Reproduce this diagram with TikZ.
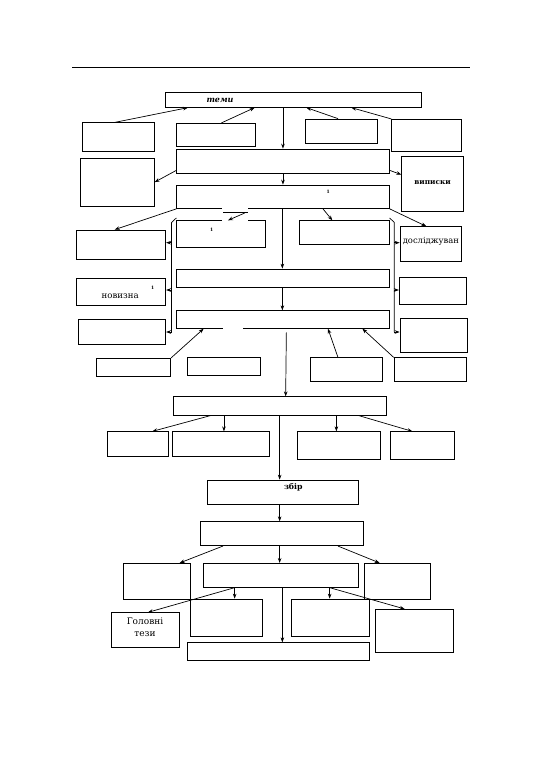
\documentclass[tikz,border=0pt]{standalone}
\usepackage{fontspec}
\setmainfont{DejaVu Serif}
\usetikzlibrary{fit,arrows.meta,calc}
\tikzset{
  bx/.style={draw, line width=0.7pt, inner sep=0pt, align=center},
  arr/.style={-{Stealth[length=5pt,width=3.6pt]}, line width=0.7pt},
  ln/.style={line width=0.7pt},
  lbl/.style={inner sep=0pt, font=\fontsize{8.6}{9}\selectfont},
  one/.style={inner sep=0pt, font=\fontsize{4.5}{5}\selectfont\bfseries}
}
\newcommand\mybox[6]{\node[bx, fit={(#2,#3) (#4,#5)}] (#1) {#6};}
\begin{document}
\begin{tikzpicture}[x=1pt,y=-1pt]
\useasboundingbox (0,0) rectangle (543,781);
% top rule
\draw[line width=1.3pt] (72,67.7) -- (470,67.7);
% boxes
\mybox{teme}{165}{92.3}{421.7}{107.3}{}
\mybox{A}{82.3}{122.7}{154.3}{151.7}{}
\mybox{B}{176.7}{123.3}{255.7}{146}{}
\mybox{C}{305}{119}{377.7}{143.3}{}
\mybox{D}{391.7}{119.3}{461.7}{151.7}{}
\mybox{E}{176.7}{149}{389.3}{173.3}{}
\mybox{F}{80.7}{158.3}{154.3}{206}{}
\mybox{Vyp}{401.7}{156.7}{463.3}{211.7}{\fontsize{7.3}{8}\selectfont\bfseries виписки}
\mybox{G}{176.7}{185}{389.3}{208.5}{}
\mybox{H}{76.7}{230}{165.7}{259.3}{}
\mybox{K}{176.7}{220.7}{265.7}{247.7}{}
\mybox{L}{299.3}{220.7}{389.3}{244.3}{}
\mybox{Dosl}{400}{226.7}{461.7}{261.7}{\fontsize{8.4}{9}\selectfont досліджуван}
\mybox{M}{176.7}{269}{389.3}{287.3}{}
\mybox{I}{76}{278.3}{165.7}{305.7}{}
\mybox{Rb}{399.3}{277.7}{466.7}{304.3}{}
\mybox{N}{176.7}{310.7}{389.3}{328.3}{}
\mybox{J}{78.3}{319.3}{165.7}{344}{}
\mybox{Rc}{400}{318.3}{467.3}{352.3}{}
\mybox{Pa}{96}{358.3}{170.7}{376}{}
\mybox{Pb}{187.3}{357.7}{260}{375.7}{}
\mybox{Pc}{310}{357.7}{382.7}{381.7}{}
\mybox{Pd}{394}{357.7}{466.7}{381.7}{}
\mybox{Q}{173.3}{396.7}{386}{415}{}
\mybox{Qa}{107.3}{431.7}{168.3}{456.7}{}
\mybox{Qb}{172.3}{431.7}{269.3}{456.7}{}
\mybox{Qc}{297.3}{431.7}{380}{459.3}{}
\mybox{Qd}{390}{431.7}{454.3}{459.3}{}
\mybox{Zb}{207.3}{480}{358.3}{504}{}
\mybox{S}{200.7}{521.7}{363.3}{545.7}{}
\mybox{Ta}{123.3}{563.3}{190.7}{599.3}{}
\mybox{Tb}{203.3}{563.3}{358.3}{587.3}{}
\mybox{Tc}{364}{563.3}{430.7}{599.3}{}
\mybox{Ua}{111}{612.7}{179}{647.7}{\fontsize{9}{12.8}\selectfont Головні\\тези}
\mybox{Ub}{190}{599}{262.7}{636}{}
\mybox{Uc}{291.7}{599}{369.3}{636.7}{}
\mybox{Ud}{375}{609.3}{453.3}{652.7}{}
\mybox{V}{187.7}{642.7}{369.3}{660}{}
% gaps in the scan
\fill[white] (221.7,206.5) rectangle (248.3,222);
\draw[ln] (223.3,212.7) -- (248.3,212.7);
\fill[white] (222.7,327) rectangle (243.3,329.6);
% texts
\node[inner sep=0pt, font=\fontsize{8}{8}\selectfont\bfseries\itshape] (tt) at (220,100.5) {теми};
\node[one] (oneG) at (328.3,191.7) {1};
\node[one] (oneK) at (211.7,230) {1};
\node[one] (oneI) at (152.7,288.3) {1};
\node[lbl] (nov) at (120.2,296.7) {новизна};
\node[inner sep=0pt, font=\fontsize{7.8}{8}\selectfont\bfseries] (zbt) at (293.3,487.3) {збір};
% connectors top
\draw[arr] ([xshift=-3.3pt]A.north) -- ([xshift=23.3pt]teme.south west);
\draw[arr] ([xshift=45pt]B.north west) -- ([xshift=90pt]teme.south west);
\draw[arr] ([xshift=-3.3pt]C.north) -- ([xshift=141.7pt]teme.south west);
\draw[arr] (D.north west) -- ([xshift=186.7pt]teme.south west);
\draw[arr] ([xshift=118.3pt]teme.south west) -- ([xshift=106.6pt]E.north west);
\draw[arr] ([yshift=3.3pt]E.south west) -- (F.east);
\draw[arr] ([yshift=3.3pt]E.south east) -- ([yshift=-18.3pt]Vyp.north west);
\draw[arr] ([xshift=106.6pt]E.south west) -- ([xshift=106.6pt]G.north west);
% from G
\draw[arr] (G.south west) -- ([xshift=38.3pt]H.north west);
\draw[arr] ([xshift=68.3pt,yshift=-4.2pt]G.south west) -- ([xshift=51.6pt]K.north west);
\draw[arr] ([xshift=146.6pt]G.south west) -- ([xshift=33.4pt]L.north west);
\draw[arr] (G.south east) -- ([xshift=26.7pt]Dosl.north west);
\draw[arr] ([xshift=106pt]G.south west) -- ([xshift=106pt]M.north west);
\draw[arr] ([xshift=106pt]M.south west) -- ([xshift=106pt]N.north west);
% side brackets
\coordinate (lt) at ([yshift=2.4pt]K.north west);
\coordinate (lb) at (171.5,332);
\draw[ln] (lt) -- (171.5,222.5) -- (lb);
\coordinate (rt) at ([yshift=2.4pt]L.north east);
\coordinate (rb) at (394.3,332);
\draw[ln] (rt) -- (394.3,222.5) -- (rb);
\coordinate (la) at (171.5,242.7);
\coordinate (lc) at (171.5,290);
\draw[arr] (la) -- (la -| H.east);
\draw[arr] (lc) -- (lc -| I.east);
\draw[arr] (lb) -- (lb -| J.east);
\coordinate (ra) at (394.3,242.7);
\coordinate (rc) at (394.3,290);
\draw[arr] (ra) -- (ra -| Dosl.west);
\draw[arr] (rc) -- (rc -| Rb.west);
\draw[arr] (rb) -- (rb -| Rc.west);
% into N
\draw[arr] (Pa.north east) -- ([xshift=27.3pt]N.south west);
\draw[arr] ([xshift=28.3pt]Pc.north west) -- ([xshift=151.6pt]N.south west);
\draw[arr] (Pd.north west) -- ([xshift=186pt]N.south west);
\draw[arr] ([xshift=110pt,yshift=-3.7pt]N.south west) -- ([xshift=112.7pt]Q.north west);
% from Q
\draw[arr] ([xshift=38.4pt]Q.south west) -- ([xshift=45.4pt]Qa.north west);
\draw[arr] ([xshift=51pt]Q.south west) -- ([xshift=52pt]Qb.north west);
\draw[arr] ([xshift=163.4pt]Q.south west) -- ([xshift=39.4pt]Qc.north west);
\draw[arr] ([xshift=185pt]Q.south west) -- ([xshift=22.7pt]Qd.north west);
\draw[arr] ([xshift=106.7pt]Q.south west) -- ([xshift=72.7pt]Zb.north west);
\draw[arr] ([xshift=72.7pt]Zb.south west) -- ([xshift=79.3pt]S.north west);
% from S
\draw[arr] ([xshift=22.6pt]S.south west) -- ([xshift=56.7pt]Ta.north west);
\draw[arr] ([xshift=79.3pt]S.south west) -- ([xshift=76.7pt]Tb.north west);
\draw[arr] ([xshift=137.6pt]S.south west) -- ([xshift=16pt]Tc.north west);
% from T2
\draw[arr] ([xshift=31.7pt]Tb.south west) -- ([xshift=45pt]Ub.north west);
\draw[arr] ([xshift=31.7pt]Tb.south west) -- ([xshift=37.3pt]Ua.north west);
\draw[arr] ([xshift=79.4pt]Tb.south west) -- ([xshift=95pt]V.north west);
\draw[arr] ([xshift=126.7pt]Tb.south west) -- ([xshift=38.3pt]Uc.north west);
\draw[arr] ([xshift=126.7pt]Tb.south west) -- ([xshift=30pt]Ud.north west);
\end{tikzpicture}
\end{document}
